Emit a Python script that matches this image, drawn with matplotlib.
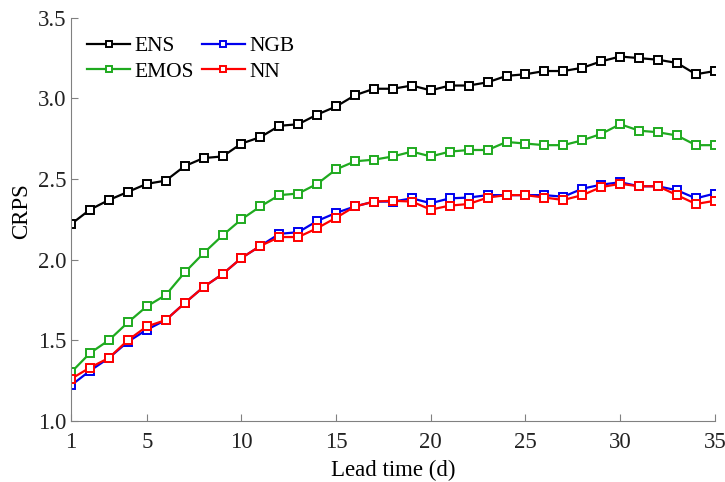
import numpy as np
import matplotlib
matplotlib.use('Agg')
import matplotlib.pyplot as plt

# lead time (days)
lead = np.arange(1, 36)

ens = [2.22, 2.31, 2.37, 2.42, 2.47, 2.49, 2.58, 2.63, 2.64, 2.72,
       2.76, 2.83, 2.84, 2.90, 2.95, 3.02, 3.06, 3.06, 3.08, 3.05,
       3.08, 3.08, 3.10, 3.14, 3.15, 3.17, 3.17, 3.19, 3.23, 3.26,
       3.25, 3.24, 3.22, 3.15, 3.17]
emos = [1.30, 1.42, 1.50, 1.61, 1.71, 1.78, 1.92, 2.04, 2.15, 2.25,
        2.33, 2.40, 2.41, 2.47, 2.56, 2.61, 2.62, 2.64, 2.67, 2.64,
        2.67, 2.68, 2.68, 2.73, 2.72, 2.71, 2.71, 2.74, 2.78, 2.84,
        2.80, 2.79, 2.77, 2.71, 2.71]
ngb = [1.22, 1.31, 1.39, 1.49, 1.565, 1.625, 1.73, 1.83, 1.91, 2.01,
       2.085, 2.16, 2.17, 2.24, 2.29, 2.33, 2.36, 2.36, 2.38, 2.35,
       2.38, 2.385, 2.40, 2.40, 2.40, 2.40, 2.39, 2.44, 2.465, 2.48,
       2.455, 2.455, 2.43, 2.38, 2.41]
nn = [1.26, 1.33, 1.39, 1.50, 1.585, 1.625, 1.73, 1.83, 1.91, 2.01,
      2.085, 2.14, 2.14, 2.195, 2.26, 2.33, 2.36, 2.365, 2.36, 2.31,
      2.335, 2.345, 2.385, 2.40, 2.40, 2.385, 2.37, 2.40, 2.45, 2.47,
      2.455, 2.455, 2.40, 2.345, 2.365]

xticks = [1, 5, 10, 15, 20, 25, 30, 35]
yticks = [1.0, 1.5, 2.0, 2.5, 3.0, 3.5]

plt.rcParams['font.family'] = ['Liberation Serif', 'DejaVu Serif']
plt.rcParams['font.size'] = 16.5

fig = plt.figure(figsize=(7.25, 4.82), dpi=100)
ax = fig.add_axes([0.098, 0.127, 0.888, 0.836])

style = dict(marker='s', markersize=5.8, markerfacecolor='white',
             markeredgewidth=1.4, linewidth=1.6)
ax.plot(lead, ens, color='black', label='ENS', **style)
ax.plot(lead, emos, color='#1faa1f', label='EMOS', **style)
ax.plot(lead, ngb, color='#0000ee', label='NGB', **style)
ax.plot(lead, nn, color='#ff0000', label='NN', **style)

ax.set_xlim(1, 35)
ax.set_ylim(1.0, 3.5)
ax.set_xticks(xticks)
ax.set_yticks(yticks)
ax.set_yticklabels(['%.1f' % v for v in yticks])
ax.set_xlabel('Lead time (d)', labelpad=5)
ax.set_ylabel('CRPS')
ax.yaxis.set_label_coords(-0.061, 0.52)

for s in ['top', 'right']:
    ax.spines[s].set_visible(False)
for s in ['left', 'bottom']:
    ax.spines[s].set_color('#808080')
ax.tick_params(direction='in', length=5, color='#808080', labelcolor='#222222')
ax.tick_params(axis='x', pad=8)

ax.legend(ncol=2, loc='upper left', frameon=False, handlelength=2.0,
          columnspacing=0.35, handletextpad=0.2, labelspacing=0.25,
          markerscale=0.75, fontsize=15.5, bbox_to_anchor=(-0.005, 1.003))

fig.savefig('out.png', dpi=100)
